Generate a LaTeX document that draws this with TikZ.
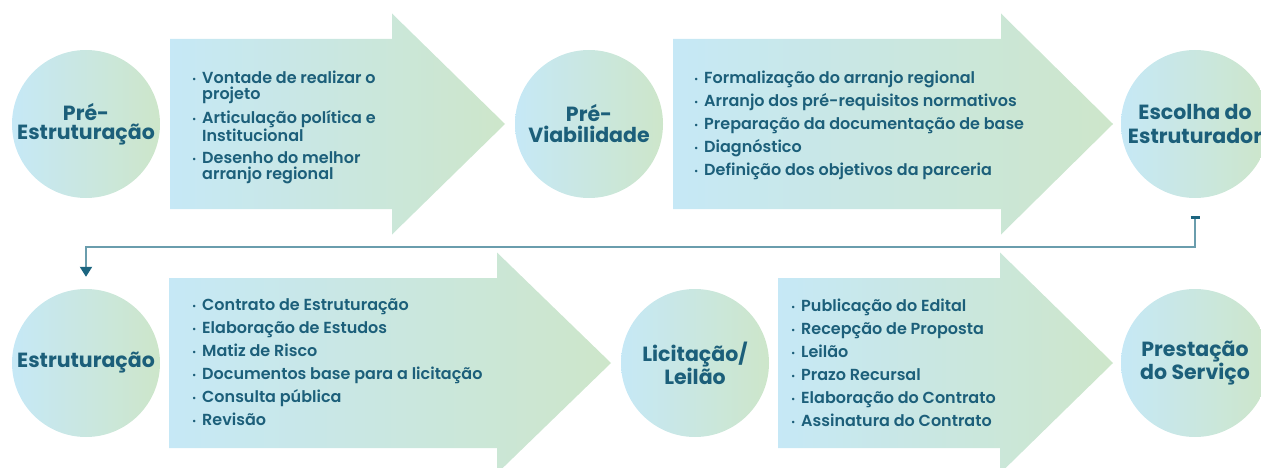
\documentclass[tikz,border=0pt]{standalone}
\usepackage{fontspec}
\setmainfont{Poppins}
\newfontfamily\itemfont{Poppins SemiBold}
\usetikzlibrary{arrows.meta}

\definecolor{stageblue}{HTML}{C6E8F6}
\definecolor{stagegreen}{HTML}{CDE6CA}
\definecolor{inkteal}{HTML}{1C5F7A}
\definecolor{linkteal}{HTML}{6A9DAD}
\definecolor{tipteal}{HTML}{1C6580}

\newcommand\dotitem{\makebox[10pt][l]{\raisebox{0.5pt}{\small\textbullet}}}
\newcommand\hangitem{\hspace*{10pt}}

\begin{document}
\begin{tikzpicture}[x=1pt,y=1pt,yscale=-1,
  stage/.style={circle,minimum size=148pt,inner sep=0pt,left color=stageblue,right color=stagegreen,text=inkteal,align=center,font=\fontsize{20.5}{19}\selectfont\bfseries},
  steps/.style={anchor=north west,inner sep=0pt,align=left,text=inkteal,font=\itemfont\fontsize{16}{23}\selectfont},
  band/.style={left color=stageblue,right color=stagegreen},
  link/.style={draw=linkteal,line width=2pt,{Bar[width=9pt,line width=2.5pt,color=tipteal]}-{Triangle[width=12pt,length=10pt,color=tipteal]}}]
%set diagram left start at 0, and has height of 468
\useasboundingbox (0,0) rectangle (1261,468);
\clip (0,0) rectangle (1261,468);

%Shape: Arrow [top left]
\shade [band] (170,209) -- (170,39) -- (392,39) -- (392,13.5) -- (505,124) -- (392,234.5) -- (392,209) -- cycle ;
%Shape: Arrow [top right]
\shade [band] (673,209) -- (673,39) -- (1001,39) -- (1001,13.5) -- (1113,124) -- (1001,234.5) -- (1001,209) -- cycle ;
%Shape: Arrow [bottom left]
\shade [band] (169,448) -- (169,278) -- (497,278) -- (497,252.5) -- (611,363) -- (497,473.5) -- (497,448) -- cycle ;
%Shape: Arrow [bottom right]
\shade [band] (778,448) -- (778,278) -- (1000,278) -- (1000,252.5) -- (1113,363) -- (1000,473.5) -- (1000,448) -- cycle ;

% Text Node
\draw (86,124) node [stage] (pre) {Pré-\\Estruturação};
% Text Node
\draw (589,124) node [stage] (previa) {Pré-\\[2pt]Viabilidade};
% Text Node
\draw (1195,124) node [stage] (escolha) {Escolha do\\[5pt]Estruturador};
% Text Node
\draw (86,363) node [stage] (estrut) {Estruturação};
% Text Node
\draw (695,363) node [stage] (licit) {Licitação/\\Leilão};
% Text Node
\draw (1195,363) node [stage] (prest) {Prestação\\do Serviço};

% Text Node
\draw (192,70) node [steps,font=\itemfont\fontsize{16}{16}\selectfont] (prelist) {\rule{0pt}{13pt}\dotitem Vontade de realizar o\\\hangitem projeto\\[6pt]\dotitem Articulação política e\\\hangitem Institucional\\[6pt]\dotitem Desenho do melhor\\\hangitem arranjo regional};
% Text Node
\draw (694,70) node [steps] (previalist) {\rule{0pt}{13pt}\dotitem Formalização do arranjo regional\\\dotitem Arranjo dos pré-requisitos normativos\\\dotitem Preparação da documentação de base\\\dotitem Diagnóstico\\\dotitem Definição dos objetivos da parceria};
% Text Node
\draw (192,297) node [steps] (estrutlist) {\rule{0pt}{13pt}\dotitem Contrato de Estruturação\\\dotitem Elaboração de Estudos\\\dotitem Matiz de Risco\\\dotitem Documentos base para a licitação\\\dotitem Consulta pública\\\dotitem Revisão};
% Text Node
\draw (791,298) node [steps] (licitlist) {\rule{0pt}{13pt}\dotitem Publicação do Edital\\\dotitem Recepção de Proposta\\\dotitem Leilão\\\dotitem Prazo Recursal\\\dotitem Elaboração do Contrato\\\dotitem Assinatura do Contrato};

%Straight Lines [escolha to estrut]
\draw [link] ([yshift=18pt]escolha.south) -- ++(0,31pt) -| ([yshift=-12pt]estrut.north) ;

\end{tikzpicture}
\end{document}
